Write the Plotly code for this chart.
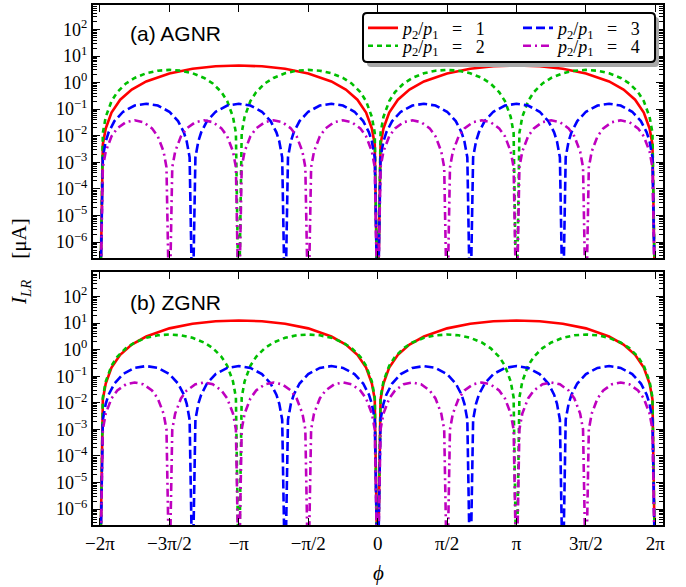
import numpy as np
import plotly.graph_objects as go

# phi values are given in units of pi/48 (so -96 -> -2pi, 96 -> 2pi)
PHI_UNIT = 48.0

phi_p1 = [-96, -95, -94, -92, -89, -85, -80, -72, -64, -56, -48, -40, -32, -24, -16, -11, -7, -4, -2, -1, 0,
          1, 2, 4, 7, 11, 16, 24, 32, 40, 48, 56, 64, 72, 80, 85, 89, 92, 94, 95, 96]
phi_p2 = [-96, -95, -94, -92, -90, -87, -84, -80, -76, -72, -68, -64, -60, -57, -54, -52, -50, -49, -48,
          -47, -46, -44, -42, -39, -36, -32, -28, -24, -20, -16, -12, -9, -6, -4, -2, -1, 0,
          1, 2, 4, 6, 9, 12, 16, 20, 24, 28, 32, 36, 39, 42, 44, 46, 47, 48,
          49, 50, 52, 54, 57, 60, 64, 68, 72, 76, 80, 84, 87, 90, 92, 94, 95, 96]
phi_p3 = [-96, -95, -94, -93, -91, -88, -84, -80, -76, -72, -69, -67, -66, -65, -64,
          -63, -62, -61, -59, -56, -52, -48, -44, -40, -37, -35, -34, -33, -32,
          -31, -30, -29, -27, -24, -20, -16, -12, -8, -5, -3, -2, -1, 0,
          1, 2, 3, 5, 8, 12, 16, 20, 24, 27, 29, 30, 31, 32,
          33, 34, 35, 37, 40, 44, 48, 52, 56, 59, 61, 62, 63, 64,
          65, 66, 67, 69, 72, 76, 80, 84, 88, 91, 93, 94, 95, 96]
phi_p4 = [-96, -95, -94, -92, -90, -87, -84, -81, -78, -76, -74, -73, -72,
          -71, -70, -68, -66, -63, -60, -57, -54, -52, -50, -49, -48,
          -47, -46, -44, -42, -39, -36, -33, -30, -28, -26, -25, -24,
          -23, -22, -20, -18, -15, -12, -9, -6, -4, -2, -1, 0,
          1, 2, 4, 6, 9, 12, 15, 18, 20, 22, 23, 24,
          25, 26, 28, 30, 33, 36, 39, 42, 44, 46, 47, 48,
          49, 50, 52, 54, 57, 60, 63, 66, 68, 70, 71, 72,
          73, 74, 76, 78, 81, 84, 87, 90, 92, 94, 95, 96]

# (a) AGNR currents [uA]  (1e-9 = node, below the axis)
agnr_p1 = [1e-9, 0.0047, 0.0188, 0.075, 0.227, 0.546, 1.1, 2.2, 3.3, 4.1, 4.4, 4.1, 3.3, 2.2, 1.1, 0.546, 0.227, 0.075, 0.0188, 0.0047, 1e-9,
           0.0047, 0.0188, 0.075, 0.227, 0.546, 1.1, 2.2, 3.3, 4.1, 4.4, 4.1, 3.3, 2.2, 1.1, 0.546, 0.227, 0.075, 0.0188, 0.0047, 1e-9]
agnr_p2 = [1e-9, 0.0128, 0.051, 0.20, 0.44, 0.93, 1.5, 2.25, 2.8, 3.0, 2.8, 2.25, 1.5, 0.93, 0.44, 0.20, 0.051, 0.0128, 1e-9,
           0.0128, 0.051, 0.20, 0.44, 0.93, 1.5, 2.25, 2.8, 3.0, 2.8, 2.25, 1.5, 0.93, 0.44, 0.20, 0.051, 0.0128, 1e-9,
           0.0128, 0.051, 0.20, 0.44, 0.93, 1.5, 2.25, 2.8, 3.0, 2.8, 2.25, 1.5, 0.93, 0.44, 0.20, 0.051, 0.0128, 1e-9,
           0.0128, 0.051, 0.20, 0.44, 0.93, 1.5, 2.25, 2.8, 3.0, 2.8, 2.25, 1.5, 0.93, 0.44, 0.20, 0.051, 0.0128, 1e-9]
agnr_p3 = [1e-9, 0.00154, 0.0061, 0.0135, 0.0355, 0.08, 0.137, 0.16, 0.137, 0.08, 0.0355, 0.0135, 0.0061, 0.00154, 1e-9,
           0.00154, 0.0061, 0.0135, 0.0355, 0.08, 0.137, 0.16, 0.137, 0.08, 0.0355, 0.0135, 0.0061, 0.00154, 1e-9,
           0.00154, 0.0061, 0.0135, 0.0355, 0.08, 0.137, 0.16, 0.137, 0.08, 0.0355, 0.0135, 0.0061, 0.00154, 1e-9,
           0.00154, 0.0061, 0.0135, 0.0355, 0.08, 0.137, 0.16, 0.137, 0.08, 0.0355, 0.0135, 0.0061, 0.00154, 1e-9,
           0.00154, 0.0061, 0.0135, 0.0355, 0.08, 0.137, 0.16, 0.137, 0.08, 0.0355, 0.0135, 0.0061, 0.00154, 1e-9,
           0.00154, 0.0061, 0.0135, 0.0355, 0.08, 0.137, 0.16, 0.137, 0.08, 0.0355, 0.0135, 0.0061, 0.00154, 1e-9]
agnr_p4 = [1e-9, 0.00065, 0.00255, 0.0095, 0.019, 0.0325, 0.038, 0.0325, 0.019, 0.0095, 0.00255, 0.00065, 1e-9,
           0.00065, 0.00255, 0.0095, 0.019, 0.0325, 0.038, 0.0325, 0.019, 0.0095, 0.00255, 0.00065, 1e-9,
           0.00065, 0.00255, 0.0095, 0.019, 0.0325, 0.038, 0.0325, 0.019, 0.0095, 0.00255, 0.00065, 1e-9,
           0.00065, 0.00255, 0.0095, 0.019, 0.0325, 0.038, 0.0325, 0.019, 0.0095, 0.00255, 0.00065, 1e-9,
           0.00065, 0.00255, 0.0095, 0.019, 0.0325, 0.038, 0.0325, 0.019, 0.0095, 0.00255, 0.00065, 1e-9,
           0.00065, 0.00255, 0.0095, 0.019, 0.0325, 0.038, 0.0325, 0.019, 0.0095, 0.00255, 0.00065, 1e-9,
           0.00065, 0.00255, 0.0095, 0.019, 0.0325, 0.038, 0.0325, 0.019, 0.0095, 0.00255, 0.00065, 1e-9,
           0.00065, 0.00255, 0.0095, 0.019, 0.0325, 0.038, 0.0325, 0.019, 0.0095, 0.00255, 0.00065, 1e-9]

# (b) ZGNR currents [uA]
zgnr_p1 = [1e-9, 0.0134, 0.053, 0.21, 0.64, 1.55, 3.1, 6.3, 9.4, 11.7, 12.5, 11.7, 9.4, 6.3, 3.1, 1.55, 0.64, 0.21, 0.053, 0.0134, 1e-9,
           0.0134, 0.053, 0.21, 0.64, 1.55, 3.1, 6.3, 9.4, 11.7, 12.5, 11.7, 9.4, 6.3, 3.1, 1.55, 0.64, 0.21, 0.053, 0.0134, 1e-9]
zgnr_p2 = [1e-9, 0.0158, 0.063, 0.248, 0.54, 1.14, 1.85, 2.78, 3.45, 3.7, 3.45, 2.78, 1.85, 1.14, 0.54, 0.248, 0.063, 0.0158, 1e-9,
           0.0158, 0.063, 0.248, 0.54, 1.14, 1.85, 2.78, 3.45, 3.7, 3.45, 2.78, 1.85, 1.14, 0.54, 0.248, 0.063, 0.0158, 1e-9,
           0.0158, 0.063, 0.248, 0.54, 1.14, 1.85, 2.78, 3.45, 3.7, 3.45, 2.78, 1.85, 1.14, 0.54, 0.248, 0.063, 0.0158, 1e-9,
           0.0158, 0.063, 0.248, 0.54, 1.14, 1.85, 2.78, 3.45, 3.7, 3.45, 2.78, 1.85, 1.14, 0.54, 0.248, 0.063, 0.0158, 1e-9]
zgnr_p3 = [1e-9, 0.0023, 0.0091, 0.0202, 0.053, 0.12, 0.205, 0.24, 0.205, 0.12, 0.053, 0.0202, 0.0091, 0.0023, 1e-9,
           0.0023, 0.0091, 0.0202, 0.053, 0.12, 0.205, 0.24, 0.205, 0.12, 0.053, 0.0202, 0.0091, 0.0023, 1e-9,
           0.0023, 0.0091, 0.0202, 0.053, 0.12, 0.205, 0.24, 0.205, 0.12, 0.053, 0.0202, 0.0091, 0.0023, 1e-9,
           0.0023, 0.0091, 0.0202, 0.053, 0.12, 0.205, 0.24, 0.205, 0.12, 0.053, 0.0202, 0.0091, 0.0023, 1e-9,
           0.0023, 0.0091, 0.0202, 0.053, 0.12, 0.205, 0.24, 0.205, 0.12, 0.053, 0.0202, 0.0091, 0.0023, 1e-9,
           0.0023, 0.0091, 0.0202, 0.053, 0.12, 0.205, 0.24, 0.205, 0.12, 0.053, 0.0202, 0.0091, 0.0023, 1e-9]
zgnr_p4 = [1e-9, 0.00099, 0.0039, 0.0145, 0.029, 0.0495, 0.058, 0.0495, 0.029, 0.0145, 0.0039, 0.00099, 1e-9,
           0.00099, 0.0039, 0.0145, 0.029, 0.0495, 0.058, 0.0495, 0.029, 0.0145, 0.0039, 0.00099, 1e-9,
           0.00099, 0.0039, 0.0145, 0.029, 0.0495, 0.058, 0.0495, 0.029, 0.0145, 0.0039, 0.00099, 1e-9,
           0.00099, 0.0039, 0.0145, 0.029, 0.0495, 0.058, 0.0495, 0.029, 0.0145, 0.0039, 0.00099, 1e-9,
           0.00099, 0.0039, 0.0145, 0.029, 0.0495, 0.058, 0.0495, 0.029, 0.0145, 0.0039, 0.00099, 1e-9,
           0.00099, 0.0039, 0.0145, 0.029, 0.0495, 0.058, 0.0495, 0.029, 0.0145, 0.0039, 0.00099, 1e-9,
           0.00099, 0.0039, 0.0145, 0.029, 0.0495, 0.058, 0.0495, 0.029, 0.0145, 0.0039, 0.00099, 1e-9,
           0.00099, 0.0039, 0.0145, 0.029, 0.0495, 0.058, 0.0495, 0.029, 0.0145, 0.0039, 0.00099, 1e-9]

ratios = [1, 2, 3, 4]
x_tickvals = [-2, -1.5, -1, -0.5, 0, 0.5, 1, 1.5, 2]
x_ticktext = ["−2π", "−3π/2", "−π", "−π/2", "0", "π/2", "π", "3π/2", "2π"]
y_tickvals = [1e-6, 1e-5, 1e-4, 1e-3, 1e-2, 1e-1, 1e0, 1e1, 1e2]
y_ticktext = ["10<sup>−6</sup>", "10<sup>−5</sup>", "10<sup>−4</sup>", "10<sup>−3</sup>", "10<sup>−2</sup>",
              "10<sup>−1</sup>", "10<sup>0</sup>", "10<sup>1</sup>", "10<sup>2</sup>"]

SERIF = "Liberation Serif"
SANS = "Liberation Sans"

colors = ["#ff0000", "#00bf00", "#0000ff", "#bf00bf"]
dashes = ["solid", "5px,4px", "9px,4px", "8px,4px,2px,4px"]
phis = [phi_p1, phi_p2, phi_p3, phi_p4]
panels = [(agnr_p1, agnr_p2, agnr_p3, agnr_p4), (zgnr_p1, zgnr_p2, zgnr_p3, zgnr_p4)]
legend_ids = ["legend", "legend2", "legend3", "legend4"]

fig = go.Figure()
for pi_, (vals, xa, ya) in enumerate(zip(panels, ["x", "x2"], ["y", "y2"])):
    for i in range(4):
        x = np.array(phis[i]) / PHI_UNIT
        name = ("<i>p</i><sub>2</sub>/<i>p</i><sub>1</sub>&nbsp;&nbsp;&nbsp;=&nbsp;&nbsp;&nbsp;%d"
                % ratios[i])
        fig.add_trace(go.Scatter(
            x=x, y=vals[i], mode="lines", name=name,
            line=dict(color=colors[i], width=2.6, dash=dashes[i]),
            xaxis=xa, yaxis=ya,
            showlegend=(pi_ == 0),
            legend=legend_ids[i],
        ))

axis_common = dict(showline=True, linecolor="black", linewidth=2, mirror="allticks",
                   ticks="inside", tickcolor="black", showgrid=False, zeroline=False, automargin=False)
xa_common = dict(range=[-2.05, 2.055], tickmode="array", tickvals=x_tickvals, ticktext=x_ticktext,
                 ticklen=7, tickwidth=1, tickfont=dict(family=SERIF, size=19, color="black"), **axis_common)
minor_vals = [m * 10.0 ** e for e in range(-7, 3) for m in range(2, 10)]
ya_common = dict(type="log", range=[-6.6, 2.92], tickmode="array", tickvals=y_tickvals, ticktext=y_ticktext,
                 ticklen=7, tickwidth=1, tickfont=dict(family=SERIF, size=18, color="black"),
                 minor=dict(tickmode="array", tickvals=minor_vals, ticks="inside", ticklen=4,
                            tickwidth=1, tickcolor="black", showgrid=False),
                 **axis_common)

pa_top, pa_bot = 1.0, 0.5135
pb_top, pb_bot = 0.4865, 0.0

legend_style = dict(xanchor="left", yanchor="middle", bgcolor="rgba(0,0,0,0)", borderwidth=0,
                    font=dict(family=SERIF, size=18, color="black"), tracegroupgap=0)
col_x = [0.4737, 0.4737, 0.7456, 0.7456]
row_y = [0.9555, 0.9212, 0.9555, 0.9212]

fig.update_layout(
    width=686, height=587,
    margin=dict(l=93, r=23, t=5, b=62, autoexpand=False),
    paper_bgcolor="white", plot_bgcolor="white",
    xaxis=dict(domain=[0, 1], anchor="y", showticklabels=False, **xa_common),
    xaxis2=dict(domain=[0, 1], anchor="y2", showticklabels=True, **xa_common),
    yaxis=dict(domain=[pa_bot, pa_top], anchor="x", **ya_common),
    yaxis2=dict(domain=[pb_bot, pb_top], anchor="x2", **ya_common),
    showlegend=True,
)
for lid, lx, ly in zip(legend_ids, col_x, row_y):
    fig.update_layout({lid: dict(x=lx, y=ly, **legend_style)})

# legend frame with drop shadow
def rounded(x0, y0, x1, y1, rx=0.007, ry=0.0077):
    return (f"M{x0+rx},{y0} L{x1-rx},{y0} Q{x1},{y0} {x1},{y0+ry} L{x1},{y1-ry} Q{x1},{y1} {x1-rx},{y1} "
            f"L{x0+rx},{y1} Q{x0},{y1} {x0},{y1-ry} L{x0},{y0+ry} Q{x0},{y0} {x0+rx},{y0} Z")

fig.add_shape(type="path", xref="paper", yref="paper", path=rounded(0.4807, 0.8808, 0.993, 0.9769),
              fillcolor="#a8a8a8", line=dict(width=0), layer="above")
fig.add_shape(type="path", xref="paper", yref="paper", path=rounded(0.4737, 0.8904, 0.986, 0.9846),
              fillcolor="white", line=dict(color="black", width=2), layer="above")

fig.add_annotation(text="(a) AGNR", xref="paper", yref="paper", x=0.0614, y=0.946, xanchor="left",
                   yanchor="middle", showarrow=False, font=dict(family=SANS, size=21, color="black"))
fig.add_annotation(text="(b) ZGNR", xref="paper", yref="paper", x=0.0614, y=0.427, xanchor="left",
                   yanchor="middle", showarrow=False, font=dict(family=SANS, size=21, color="black"))
fig.add_annotation(text="<i>I</i><sub><i>LR</i></sub>&nbsp;&nbsp;&nbsp;&nbsp;[μA]", xref="paper", yref="paper",
                   x=-0.128, y=0.506, xanchor="center", yanchor="middle", textangle=-90, showarrow=False,
                   font=dict(family=SERIF, size=21, color="black"))
fig.add_annotation(text="<i>ϕ</i>", xref="paper", yref="paper", x=0.5, y=-0.1192,
                   xanchor="center", yanchor="bottom", showarrow=False,
                   font=dict(family=SERIF, size=21, color="black"))

fig.write_html("out.html", config={"displayModeBar": False},
               post_script="document.body.style.margin='0';")
